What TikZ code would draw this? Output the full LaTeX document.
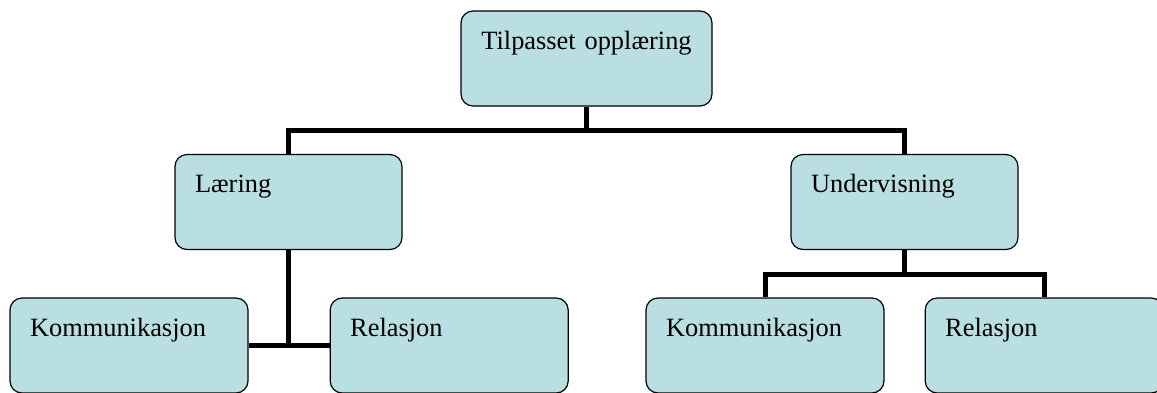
\documentclass[tikz,border=0pt]{standalone}
\usepackage{fontspec}
\setmainfont{Liberation Serif}
\usepackage{tikz}
\usetikzlibrary{positioning}

\definecolor{boxblue}{RGB}{185,223,227}

\begin{document}
\begin{tikzpicture}[x=1pt, y=-1pt,
			orgbox/.style={rectangle, draw=black, line width=1.2pt, rounded corners=12pt,
					fill=boxblue, text=black, align=left, inner xsep=20pt, inner ysep=20pt,
					text height=18pt, text depth=37pt, font=\fontsize{26.4}{30}\selectfont},
			link/.style={line width=5pt, draw=black}]
		\useasboundingbox (0,0) rectangle (1157,392);

		\node (tilpasset) [orgbox, align=center, text width=211pt] at (586.5,58.5) {Tilpasset opplæring};

		\node (laering) [orgbox, text width=187pt] at (288.5,202) {Læring};
		\node (undervisning) [orgbox, text width=187pt] at (904.5,202) {Undervisning};

		\node (kommA) [orgbox, text width=198pt] at (129,345.5) {Kommunikasjon};
		\node (relA) [orgbox, text width=198pt, right=81pt of kommA] {Relasjon};

		\node (kommB) [orgbox, text width=198pt] at (765,345.5) {Kommunikasjon};
		\node (relB) [orgbox, text width=198pt, right=40pt of kommB] {Relasjon};

		\draw [link] (tilpasset.south) -- ++(0,24) -| (laering.north);
		\draw [link] (tilpasset.south) -- ++(0,24) -| (undervisning.north);
		\draw [link] (laering.south) |- (kommA.east);
		\draw [link] (laering.south) |- (relA.west);
		\draw [link] (undervisning.south) -- ++(0,24) -| (kommB.north);
		\draw [link] (undervisning.south) -- ++(0,24) -| (relB.north);
	\end{tikzpicture}
\end{document}
